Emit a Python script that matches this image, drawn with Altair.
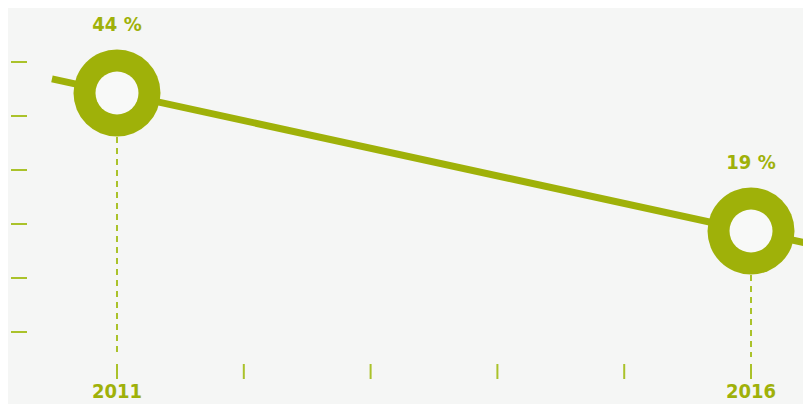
import altair as alt
import pandas as pd

years = [2011, 2016]
values = [44, 19]
value_labels = ["44 %", "19 %"]
year_labels = ["2011", "2016"]
axis_years = [2011, 2012, 2013, 2014, 2015, 2016]
axis_values = [0, 10, 20, 30, 40, 50]

GREEN = "#9fb109"
TICK = "#aac22a"
BG = "#f5f6f5"
HOLE = "#f8f9f8"
FONT = "DejaVu Sans Condensed, Liberation Sans Narrow, DejaVu Sans"

df = pd.DataFrame({"year": years, "value": values, "label": value_labels, "ylabel": year_labels})
df_xt = pd.DataFrame({"year": axis_years})
df_yt = pd.DataFrame({"v": axis_values})

xs = alt.Scale(domain=[2010.1404, 2016.410], nice=False, zero=False)
ys = alt.Scale(domain=[-12.34, 59.40], nice=False, zero=False)
X = alt.X("year:Q", scale=xs, axis=None)
Y = alt.Y("value:Q", scale=ys, axis=None)

base = alt.Chart(df)

trend = base.transform_regression("year", "value", extent=[2010.487, 2016.7]).mark_line(
    color=GREEN, strokeWidth=7, strokeCap="butt", clip=True
).encode(x=X, y=Y)

dashes = base.mark_rule(color=TICK, strokeWidth=2, strokeDash=[6, 5]).encode(
    x=X, y=Y, y2=alt.value(349)
)

xticks = alt.Chart(df_xt).mark_rule(color=TICK, strokeWidth=2).encode(
    x=alt.X("year:Q", scale=xs, axis=None), y=alt.value(356), y2=alt.value(371)
)

ring = base.mark_point(shape="circle", filled=True, size=7569, color=GREEN, opacity=1).encode(x=X, y=Y)
hole = base.mark_point(shape="circle", filled=True, size=1849, color=HOLE, opacity=1).encode(x=X, y=Y)

vlabels = base.mark_text(
    color=GREEN, font=FONT, fontSize=20, fontWeight="bold", dy=-68, baseline="middle", align="center"
).encode(x=X, y=Y, text="label:N")

ylabels = base.mark_text(
    color=GREEN, font=FONT, fontSize=20, fontWeight="bold", baseline="alphabetic", align="center"
).encode(x=X, y=alt.value(390), text="ylabel:N")

main = alt.layer(trend, dashes, xticks, ring, hole, vlabels, ylabels)

yticks = alt.Chart(df_yt).mark_rule(color=TICK, strokeWidth=2).encode(
    y=alt.Y("v:Q", scale=alt.Scale(domain=[-13.33, 60], nice=False, zero=False), axis=None),
    x=alt.value(3), x2=alt.value(19),
)

chart = alt.layer(yticks, main).resolve_scale(y="independent").properties(
    width=795, height=396,
    autosize=alt.AutoSizeParams(type="none"),
    padding=0,
    background=BG,
).configure_view(stroke=None)

chart.save("out.html", embed_options={"renderer": "svg", "actions": False})
